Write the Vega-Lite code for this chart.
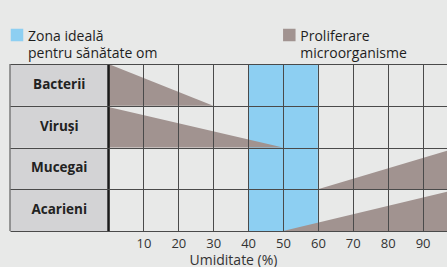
{
  "$schema": "https://vega.github.io/schema/vega-lite/v6.json",
  "width": 437,
  "height": 167,
  "autosize": "none",
  "padding": {"left": 10, "top": 64, "right": 0, "bottom": 36},
  "background": "#e8e9e8",
  "config": {
    "view": {"stroke": null},
    "font": "Open Sans",
    "legend": {"orient": "none", "symbolType": "square", "symbolSize": 156, "symbolStrokeWidth": 0, "labelFontSize": 14, "labelColor": "#1e1e1e", "labelLimit": 0, "labelOffset": 4, "labelBaseline": "top", "title": null}
  },
  "datasets": {
    "rows": [
      {"name": "Bacterii", "ylo": 3, "yhi": 4},
      {"name": "Viruși", "ylo": 2, "yhi": 3},
      {"name": "Mucegai", "ylo": 1, "yhi": 2},
      {"name": "Acarieni", "ylo": 0, "yhi": 1}
    ],
    "tri": [
      {"row": "Bacterii", "x": 0, "y": 4, "y0": 3, "cat": "Proliferare|microorganisme"},
      {"row": "Bacterii", "x": 30, "y": 3, "y0": 3, "cat": "Proliferare|microorganisme"},
      {"row": "Viruși", "x": 0, "y": 2.97, "y0": 2, "cat": "Proliferare|microorganisme"},
      {"row": "Viruși", "x": 50, "y": 2, "y0": 2, "cat": "Proliferare|microorganisme"},
      {"row": "Mucegai", "x": 60, "y": 1, "y0": 1, "cat": "Proliferare|microorganisme"},
      {"row": "Mucegai", "x": 100, "y": 2, "y0": 1, "cat": "Proliferare|microorganisme"},
      {"row": "Acarieni", "x": 50, "y": 0, "y0": 0, "cat": "Proliferare|microorganisme"},
      {"row": "Acarieni", "x": 100, "y": 1, "y0": 0, "cat": "Proliferare|microorganisme"}
    ],
    "band": [
      {"x": 40, "x2": 60, "ylo": 0, "yhi": 4, "cat": "Zona ideală|pentru sănătate om"}
    ]
  },
  "layer": [
    {
      "data": {"name": "band"},
      "mark": {"type": "rect", "opacity": 1},
      "encoding": {
        "x": {"field": "x", "type": "quantitative", "scale": {"domain": [-28.24, 97], "nice": false, "zero": false},
          "axis": {"values": [10, 20, 30, 40, 50, 60, 70, 80, 90], "grid": true, "gridColor": "#4a4a4a", "gridWidth": 1, "domain": false, "ticks": false, "labelFontSize": 13, "labelColor": "#333333", "labelBaseline": "alphabetic", "labelPadding": 16, "title": "Umiditate (%)", "titleFontSize": 14, "titleFontWeight": "normal", "titleColor": "#333333", "titleX": 223, "titleY": 33.5, "titleBaseline": "alphabetic", "zindex": 1}},
        "x2": {"field": "x2"},
        "y": {"field": "ylo", "type": "quantitative", "scale": {"domain": [0, 4], "nice": false},
          "axis": {"values": [0, 1, 2, 3, 4], "grid": true, "gridColor": "#4a4a4a", "gridWidth": 1.2, "domain": false, "ticks": false, "labels": false, "title": null, "zindex": 1}},
        "y2": {"field": "yhi"},
        "color": {"field": "cat", "type": "nominal", "scale": {"domain": ["Zona ideală|pentru sănătate om"], "range": ["#8dcff2"]},
          "legend": {"legendX": 0, "legendY": -36, "labelExpr": "split(datum.label, '|')", "encoding": {"labels": {"lineHeight": {"value": 17}, "dy": {"value": -5}}}}}
      }
    },
    {
      "data": {"name": "tri"},
      "mark": {"type": "area", "opacity": 1, "clip": true},
      "encoding": {
        "x": {"field": "x", "type": "quantitative"},
        "y": {"field": "y", "type": "quantitative"},
        "y2": {"field": "y0"},
        "detail": {"field": "row"},
        "color": {"field": "cat", "type": "nominal", "scale": {"domain": ["Proliferare|microorganisme"], "range": ["#a19390"]},
          "legend": {"legendX": 272.3, "legendY": -36, "labelExpr": "split(datum.label, '|')", "encoding": {"labels": {"lineHeight": {"value": 17}, "dy": {"value": -5}}}}}
      }
    },
    {
      "data": {"name": "rows"},
      "mark": {"type": "rect", "fill": "#d3d3d5"},
      "encoding": {
        "x": {"datum": -28.24, "type": "quantitative"},
        "x2": {"datum": 0},
        "y": {"field": "ylo", "type": "quantitative"},
        "y2": {"field": "yhi"}
      }
    },
    {
      "data": {"name": "rows"},
      "mark": {"type": "text", "fontWeight": "bold", "fontSize": 13.5, "color": "#222222", "baseline": "middle", "align": "center", "dy": 20.8},
      "encoding": {
        "x": {"datum": -14.12, "type": "quantitative"},
        "y": {"field": "yhi", "type": "quantitative"},
        "text": {"field": "name"}
      }
    },
    {
      "data": {"values": [{}]},
      "mark": {"type": "rule", "color": "#7a7a7a", "strokeWidth": 1.5},
      "encoding": {
        "x": {"datum": -28.24, "type": "quantitative"},
        "y": {"datum": 0, "type": "quantitative"},
        "y2": {"datum": 4}
      }
    },
    {
      "data": {"values": [{}]},
      "mark": {"type": "rule", "color": "#1a1a1a", "strokeWidth": 2.5},
      "encoding": {
        "x": {"datum": 0, "type": "quantitative"},
        "y": {"datum": 0, "type": "quantitative"},
        "y2": {"datum": 4}
      }
    }
  ],
  "resolve": {"scale": {"color": "independent"}}
}
